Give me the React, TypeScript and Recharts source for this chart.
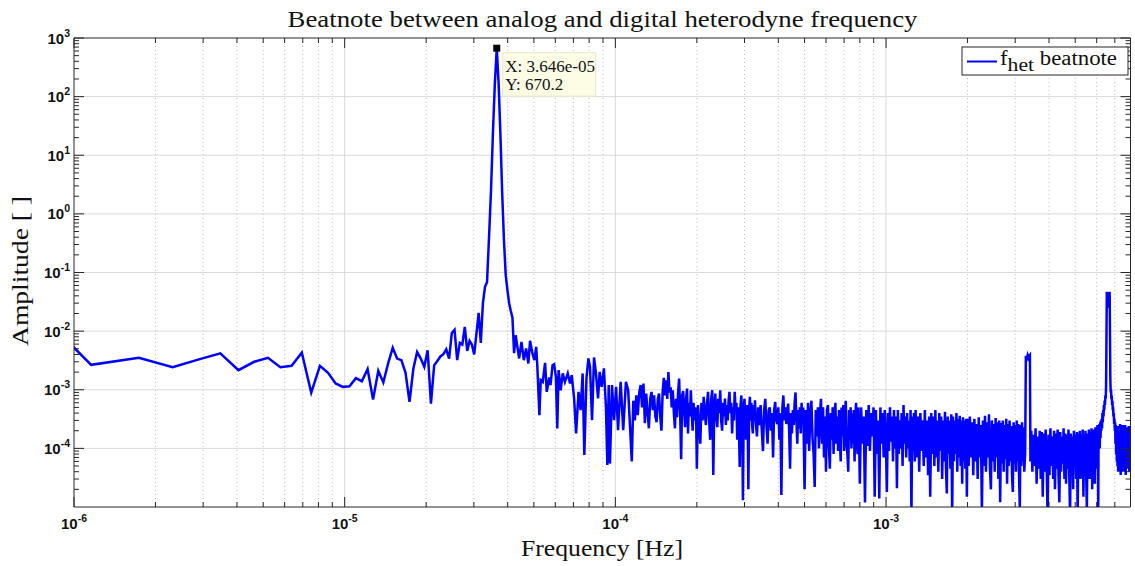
import React from 'react';
import { LineChart, Line, XAxis, YAxis, ReferenceLine, ReferenceDot } from 'recharts';

const chartTitle = 'Beatnote between analog and digital heterodyne frequency';
const xAxisLabel = 'Frequency [Hz]';
const yAxisLabel = 'Amplitude [ ]';
const legendMain = 'f';
const legendSub = 'het';
const legendRest = ' beatnote';
const dataTipLines = ['X: 3.646e-05', 'Y: 670.2'];
const peakFrequency = 3.646e-5;
const peakAmplitude = 670.2;

const xDomain = [1e-6, 8e-3];
const yDomain = [1e-5, 1e3];
const xMajorTicks = [1e-6, 1e-5, 1e-4, 1e-3];
const yMajorTicks = [1e-4, 1e-3, 1e-2, 1e-1, 1, 10, 100, 1000];
const yGridValues = [1e-4, 1e-3, 1e-2, 1e-1, 1, 10, 100];
const xGridValues = [1e-5, 1e-4, 1e-3];
const minorMultipliers = [2, 3, 4, 5, 6, 7, 8, 9];
const xDecades = [-6, -5, -4, -3];
const yDecades = [-5, -4, -3, -2, -1, 0, 1, 2];

// [frequency in µHz, amplitude]
const lowBins: [number, number][] = [
  [0.579, 0.066], [1.157, 2.66e-3], [1.736, 3.5e-3], [2.315, 2.43e-3], [2.894, 3.3e-3], [3.472, 4.17e-3],
  [4.051, 2.16e-3], [4.63, 3.0e-3], [5.208, 3.5e-3], [5.787, 2.43e-3], [6.366, 2.56e-3], [6.944, 4.3e-3],
  [7.523, 8.9e-4], [8.102, 2.56e-3], [8.681, 1.95e-3], [9.259, 1.28e-3], [9.838, 1.12e-3], [10.42, 1.15e-3],
  [11.0, 1.58e-3], [11.57, 1.4e-3], [12.15, 2.25e-3], [12.73, 6.8e-4], [13.31, 2.1e-3], [13.89, 1.33e-3],
  [14.47, 2.82e-3], [15.05, 5.2e-3], [15.62, 3.4e-3], [16.2, 3.2e-3], [16.78, 1.95e-3], [17.36, 6.2e-4],
  [17.94, 2.3e-3], [18.52, 4.4e-3], [19.1, 3.4e-3], [19.68, 2.46e-3], [20.25, 4.7e-3], [20.83, 5.8e-4],
  [21.41, 2.63e-3], [21.99, 3.1e-3], [22.57, 3.7e-3], [23.15, 4.05e-3], [23.73, 4.9e-3], [24.31, 3.4e-3],
  [24.88, 9.3e-3], [25.46, 1.05e-2], [26.04, 3.2e-3], [26.62, 6.3e-3], [27.2, 5.9e-3], [27.78, 1.18e-2],
  [28.36, 4.6e-3], [28.94, 6.8e-3], [29.51, 5.9e-3], [30.09, 4.0e-3],
];

const peakBins: [number, number][] = [
  [30.67, 9e-3], [31.25, 2.05e-2], [31.83, 6.3e-3], [32.41, 3.0e-2], [32.99, 5.7e-2], [33.56, 6.8e-2],
  [34.14, 0.4], [34.72, 2.5], [35.3, 25], [35.88, 170], [36.46, 670.2], [37.04, 170], [37.62, 22],
  [38.19, 2.2], [38.77, 0.35], [39.35, 0.09], [39.93, 0.05], [40.51, 0.03], [41.09, 0.022], [41.67, 0.017],
  [42.25, 4.2e-3], [42.82, 8.5e-3],
];

const riseNoise: [number, number][] = [
  [44.1, 3.42e-3], [45.0, 6.56e-3], [45.9, 3.2e-3], [46.8, 5.07e-3], [47.7, 2.81e-3], [48.4, 6.83e-3],
  [49.4, 4.16e-3], [50.2, 3.2e-3], [51.0, 5.4e-3], [51.5, 2.46e-3], [52.4, 3.69e-4], [53.0, 1.46e-3],
  [53.9, 1.36e-3], [55.0, 2.88e-3], [55.8, 9.2e-4], [57.0, 1.62e-3], [57.6, 1.2e-3], [58.6, 2.63e-3],
  [59.4, 2.73e-3], [60.3, 1.66e-3], [61.0, 2.19e-4], [61.7, 2.16e-3], [62.8, 9.8e-4], [63.9, 1.9e-3],
  [65.1, 1.36e-3], [66.7, 1.9e-3], [68.0, 1.28e-3], [69.0, 1.77e-3], [70.4, 7.1e-4], [71.6, 1.8e-4],
  [73.1, 9.2e-4], [74.4, 4.5e-4], [75.7, 1.9e-3], [76.8, 7.7e-5], [78.2, 1.56e-3], [79.5, 3.42e-3],
  [80.6, 2.46e-3], [82.0, 3.03e-4], [83.4, 3.56e-3], [84.8, 1.9e-3], [86.3, 7.1e-4], [87.5, 2.02e-3],
  [89.0, 1.12e-3], [90.7, 2.31e-3], [92.3, 5.1e-4], [93.4, 5.2e-5], [94.5, 1.2e-3], [95.5, 5.5e-5],
  [97.2, 1.2e-3], [98.9, 3.03e-4], [100.6, 1.12e-3], [102.3, 2.05e-4], [104.6, 1.36e-3], [106.9, 2.05e-4],
  [109.4, 1.36e-3], [111.5, 9.8e-4],
];

// evenly spaced FFT-bin groups: amplitudes
const n1Amplitudes = [
  6e-5, 6.5e-4, 3e-4, 8e-4, 3.7e-4, 9e-4, 1.2e-3, 5e-4, 1.28e-3, 2.7e-4, 8.6e-4, 4e-4, 2.2e-4, 7e-4, 9.2e-4,
  4.5e-4, 8e-4, 3.5e-4, 2.8e-4, 7e-4, 8.6e-4, 3.5e-4, 2e-4, 9e-4, 1.6e-3, 8e-4, 1.45e-3, 7e-4, 2e-3, 9e-4,
  1.1e-3, 5e-4, 9.8e-4, 4e-4, 2.2e-4, 7e-4, 3.4e-4, 9e-4, 1.55e-3, 4e-4, 6.5e-5, 8e-4, 9.5e-4, 4.5e-4, 2.3e-4,
  7e-4, 1.05e-3, 1.8e-4, 6e-4, 3.5e-4, 9.8e-4, 4e-4, 2e-4, 6e-4, 3e-4, 5e-4, 2.5e-4,
];
const n2Amplitudes = [
  4.5e-5, 5.5e-4, 2.5e-4, 1.2e-4, 6e-4, 3e-4, 7.6e-4, 4e-4, 2.5e-4, 6e-4, 9.2e-4, 3e-4, 1.4e-4, 7e-4, 9.8e-4,
  3.5e-5, 5e-4, 8.6e-4, 3.5e-4, 2.3e-4, 7e-4, 4e-4, 9.8e-4, 3e-4, 2e-4, 6e-4, 3.5e-4, 7.1e-4, 2.5e-4, 5.5e-4,
  3e-4, 6.5e-4, 9.2e-4, 4e-4, 6e-4, 1.8e-4, 5e-4, 3e-4, 9.2e-4, 4.5e-4, 6e-4, 1.4e-4, 5e-4, 2.5e-4, 4.8e-5,
  5.5e-4, 8e-4, 3e-4, 1.3e-5, 5e-4, 7e-4, 3e-4, 1.4e-4, 5.5e-4, 3.5e-4, 2e-5, 4.5e-4, 7.6e-4, 3e-4, 6e-4,
  2.5e-4, 1.8e-4, 5.5e-4, 3e-4, 6.6e-4,
];
const n3Amplitudes = [
  3e-4, 1.6e-4, 5e-4, 2.5e-4, 5.5e-4, 2e-4, 9e-5, 4.5e-4, 7e-4, 2.5e-4, 1.2e-4, 4.5e-4, 5e-4, 2e-4, 4e-4,
  7e-5, 4.5e-4, 6.2e-4, 3e-4, 2.6e-4, 5e-4, 1.4e-4, 4e-4, 1.6e-5, 5e-4, 8e-4, 3e-4, 5e-4, 2.6e-4, 4e-4,
  5.8e-4, 2e-4, 4.5e-5, 4e-4, 1.8e-4, 4.5e-4, 2.5e-4, 6e-4, 9e-4, 3e-4, 1.2e-4, 4.5e-4, 2.2e-4, 5e-4, 1.8e-4,
  6e-4, 3e-4, 5e-4,
];
const n4Amplitudes = [
  2e-5, 4.5e-4, 1.2e-4, 6e-4, 9e-5, 4e-4, 6.5e-4, 1.5e-4, 8e-5, 2.2e-5, 4.5e-4, 1.6e-4, 5e-4, 1e-4, 4e-4,
  7e-4, 1.2e-4, 5e-4, 7e-5, 3.5e-4, 4e-5, 4.5e-4, 5.5e-4, 1.1e-4, 4.5e-5, 4e-4, 1.4e-4, 5e-4, 8e-5, 4e-4,
  6e-4, 1.2e-4, 3.5e-4, 9e-5, 4.5e-4, 1.5e-4, 6e-5, 5e-4, 1.6e-4, 5.5e-4, 9e-5, 4e-4, 6.5e-4, 1.2e-4, 8e-5,
  4e-5, 4.5e-4, 1.4e-4, 5e-4, 1e-4, 4e-4, 1.2e-4, 4.5e-4, 6e-5, 3.5e-4, 6e-4, 1.3e-4, 8e-5, 5e-4, 1.4e-4,
];
const n5Amplitudes = [
  2.5e-5, 5e-4, 1.2e-4, 3.5e-4, 1.2e-5, 4.5e-4, 1.1e-4, 5.5e-4, 9e-5, 4e-4, 1.6e-4, 5e-4, 1.5e-5, 4.5e-4, 8e-5,
  3e-4, 1.4e-5, 5e-4, 1.2e-4, 4e-4, 7e-5, 4.5e-4, 1.5e-4, 1.8e-5, 4e-4, 9e-5, 5e-4, 1.3e-4, 3.5e-4, 6e-5,
  4.5e-4, 1e-4, 3.5e-4, 2.1e-5, 4.5e-4, 8e-5, 3e-4, 1e-4, 4e-4, 5e-5, 5.5e-4, 1.2e-4, 3.5e-4, 7e-5, 4e-4,
  1e-4, 3e-4, 6e-5, 4.5e-4, 7e-6, 3.5e-4, 9e-5, 4e-4, 6e-5, 4.5e-4, 1.2e-4,
];
const n6Amplitudes = [
  7e-5, 3.5e-4, 4e-5, 4e-4, 9e-5, 3e-4, 5e-5, 4.5e-4, 7e-5, 3e-4, 3.5e-5, 3.5e-4, 1.5e-5, 4e-4, 8e-5,
  3.5e-4, 5e-5, 4.5e-4, 7e-5, 3e-4, 4e-5, 4e-4, 9e-5, 3.5e-4, 3e-5, 3e-4, 6e-5, 4.2e-4, 5e-5, 1.7e-5,
  3.5e-4, 8e-5, 3e-4, 4.5e-5, 3.8e-4, 7e-6, 3.5e-4, 6e-5, 3e-4, 8e-5, 4e-4, 4e-5, 3.2e-4, 7e-5, 3.6e-4,
  5e-5, 3e-4, 2.5e-5, 3.4e-4, 6e-5, 3e-4, 4.5e-5, 3.2e-4, 1.5e-5,
];
const n7Amplitudes = [
  3.2e-4, 5e-5, 3.5e-4, 7e-5, 2.8e-4, 3.5e-5, 3.2e-4, 6e-5, 2.6e-4, 3e-5, 3.4e-4, 7e-5, 2.5e-4, 8e-6, 3e-4,
  5e-5, 3.6e-4, 4e-5, 2.8e-4, 7e-5, 3.8e-4, 4.5e-5, 2e-5, 3e-4, 6e-5, 2.6e-4, 4e-5, 3.3e-4, 7e-5, 2.8e-4,
  3e-5, 3e-4, 1.2e-5, 2.7e-4, 5.5e-5, 3e-4, 4e-5, 2.5e-4, 6.5e-5, 3.2e-4, 2.5e-5, 2.6e-4, 5e-5, 3e-4, 6e-5,
  2.4e-4, 3.5e-5, 1.8e-5, 2.8e-4, 5.5e-5, 2.5e-4, 4e-5, 3e-4, 6e-5, 2.6e-4, 3.5e-5, 1e-5, 2.5e-4, 5e-5, 2.8e-4,
  6e-5, 2.3e-4, 4e-5,
];
const n8Amplitudes = [
  2e-4, 4e-5, 1.7e-4, 5e-5, 2.2e-4, 2.5e-5, 1.6e-4, 4.5e-5, 2e-4, 3e-5, 1.9e-4, 1.5e-5, 1.8e-4, 4e-5, 2.1e-4,
  5e-5, 7e-6, 1.7e-4, 3.5e-5, 2.2e-4, 5e-5, 1.6e-4, 3e-5, 2e-4, 2e-5, 1.8e-4, 4.5e-5, 2.1e-4, 3.5e-5, 1.2e-5,
  1.9e-4, 4e-5, 1.6e-4, 5.5e-5, 2.2e-4, 3e-5, 1.8e-4, 2.5e-5, 1.7e-4, 4.5e-5, 2.1e-4, 3.5e-5, 7e-6, 1.8e-4, 4e-5,
  1.6e-4, 2e-5, 2e-4, 5e-5, 1.7e-4, 3e-5, 1.9e-4, 7e-6, 1.8e-4, 4e-5, 2e-4, 3e-5, 1.7e-4, 5e-5, 2.1e-4,
  1.5e-5, 1.7e-4, 4e-5, 2e-4, 3.5e-5, 9e-6, 1.8e-4, 4.5e-5, 2.1e-4, 3e-5, 1.9e-4, 5e-5, 2.2e-4, 2e-5, 2e-4,
  4e-5, 2.1e-4, 2.5e-5, 2.3e-4, 4.5e-5,
];
const n9Amplitudes = [
  4e-5, 2.4e-4, 5e-5, 2.6e-4, 3.5e-5, 2e-4, 6e-5, 2.5e-4, 4e-5, 2.2e-4, 5.5e-5, 2.5e-4, 3.5e-5, 2.3e-4, 6e-5,
  2e-4, 4.5e-5, 2.4e-4, 4e-5, 2.2e-4, 6e-5, 2.3e-4,
];

const harmonicOne: [number, number][] = [
  [3265, 8e-5], [3285, 3.8e-3], [3310, 3.4e-3], [3335, 3.9e-3], [3360, 3.5e-3], [3385, 3.8e-3],
  [3400, 3.9e-3], [3415, 6e-5],
];

const harmonicTwo: [number, number][] = [
  [6000, 2.2e-4], [6020, 6e-5], [6040, 2.5e-4], [6060, 1e-4], [6080, 8e-6], [6100, 2.4e-4], [6120, 1.2e-4],
  [6140, 2.6e-4], [6160, 1e-4], [6180, 2.8e-4], [6200, 1.5e-4], [6220, 3e-4], [6240, 2e-4], [6260, 3.2e-4],
  [6280, 2.2e-4], [6300, 4e-4], [6320, 2.8e-4], [6340, 4.5e-4], [6360, 3.5e-4], [6380, 5.5e-4], [6400, 4.5e-4],
  [6420, 6.5e-4], [6440, 5.5e-4], [6460, 8e-4], [6480, 7e-4], [6500, 1.2e-3], [6540, 0.047], [6580, 0.025],
  [6620, 0.046], [6660, 0.03], [6700, 0.047], [6740, 1.5e-3], [6760, 9e-4], [6780, 1e-3], [6800, 7e-4],
  [6820, 8e-4], [6840, 5.5e-4], [6860, 6.5e-4], [6880, 4.5e-4], [6900, 5e-4], [6920, 3.5e-4], [6940, 4e-4],
  [6960, 2.6e-4], [6980, 3.2e-4], [7000, 2e-4], [7020, 2.8e-4], [7040, 1.2e-4], [7060, 2.5e-4], [7080, 8e-5],
  [7100, 2.3e-4], [7120, 6e-5], [7140, 2.4e-4], [7160, 5e-5], [7180, 2.2e-4],
];

const binGroup = (startMicroHz: number, stepMicroHz: number, amps: number[]): [number, number][] =>
  amps.map((a, i) => [startMicroHz + i * stepMicroHz, a]);

const spectrum = [
  ...lowBins, ...peakBins, ...riseNoise,
  ...binGroup(115, 1.5, n1Amplitudes),
  ...binGroup(200, 2, n2Amplitudes),
  ...binGroup(330, 3.5, n3Amplitudes),
  ...binGroup(500, 5, n4Amplitudes),
  ...binGroup(800, 9, n5Amplitudes),
  ...binGroup(1300, 13, n6Amplitudes),
  ...binGroup(2000, 20, n7Amplitudes),
  ...harmonicOne,
  ...binGroup(3440, 32, n8Amplitudes),
  ...harmonicTwo,
  ...binGroup(7200, 40, n9Amplitudes),
].map(([uhz, a]) => ({ f: uhz * 1e-6, a }));

const xMinorTicks = xDecades
  .flatMap((d) => minorMultipliers.map((m) => m * Math.pow(10, d)))
  .filter((v) => v < 7.9e-3);
const yMinorTicks = yDecades.flatMap((d) => minorMultipliers.map((m) => m * Math.pow(10, d)));
const xAllTicks = [...xMajorTicks, ...xMinorTicks].sort((a, b) => a - b);
const yAllTicks = [...yMajorTicks, ...yMinorTicks].sort((a, b) => a - b);

const AXIS_COLOR = '#262626';
const LINE_COLOR = '#0000ff';
const TICK_FONT = '"Liberation Sans", Arial, sans-serif';
const SERIF = '"Liberation Serif", "Times New Roman", serif';
const MAJOR_LEN = 10;
const MINOR_LEN = 5;

const expOf = (v: number) => Math.round(Math.log10(v));
const isMajor = (v: number) => Math.abs(Math.log10(v) - Math.round(Math.log10(v))) < 1e-6;

const Pow10 = ({ x, y, anchor, value }: any) => (
  <text x={x} y={y} textAnchor={anchor} fontFamily={TICK_FONT} fontWeight="bold" fontSize={15} fill="#111">
    10<tspan dy={-7} fontSize={10.5}>{expOf(value)}</tspan>
  </text>
);

const BottomTick = (props: any) => {
  const { x, y, payload } = props;
  const major = isMajor(payload.value);
  return (
    <g>
      <line x1={x} x2={x} y1={y} y2={y - (major ? MAJOR_LEN : MINOR_LEN)} stroke={AXIS_COLOR} strokeWidth={1} />
      {major && <Pow10 x={x} y={y + 22} anchor="middle" value={payload.value} />}
    </g>
  );
};

const TopTick = (props: any) => {
  const { x, y, payload } = props;
  const major = isMajor(payload.value);
  return <line x1={x} x2={x} y1={y} y2={y + (major ? MAJOR_LEN : MINOR_LEN)} stroke={AXIS_COLOR} strokeWidth={1} />;
};

const LeftTick = (props: any) => {
  const { x, y, payload } = props;
  const major = isMajor(payload.value);
  return (
    <g>
      <line x1={x} x2={x + (major ? MAJOR_LEN : MINOR_LEN)} y1={y} y2={y} stroke={AXIS_COLOR} strokeWidth={1} />
      {major && <Pow10 x={x - 4} y={y + 5.5} anchor="end" value={payload.value} />}
    </g>
  );
};

const RightTick = (props: any) => {
  const { x, y, payload } = props;
  const major = isMajor(payload.value);
  return <line x1={x} x2={x - (major ? MAJOR_LEN : MINOR_LEN)} y1={y} y2={y} stroke={AXIS_COLOR} strokeWidth={1} />;
};

const DataTip = (props: any) => {
  const { cx, cy } = props;
  return (
    <g>
      <rect x={cx - 3.5} y={cy - 3.5} width={7} height={7} fill="#000" />
      <rect x={cx + 6} y={cy + 4.5} width={93} height={43.5} fill="#fdfde6" stroke="#e6e6cc" strokeWidth={1} />
      <text x={cx + 8.5} y={cy + 23.5} fontFamily={SERIF} fontSize={17} fill="#111">{dataTipLines[0]}</text>
      <text x={cx + 8.5} y={cy + 42} fontFamily={SERIF} fontSize={17} fill="#111">{dataTipLines[1]}</text>
    </g>
  );
};

const logX = { type: 'number' as const, scale: 'log' as const, domain: xDomain, allowDataOverflow: true, dataKey: 'f' };
const logY = { type: 'number' as const, scale: 'log' as const, domain: yDomain, allowDataOverflow: true };

export default function App() {
  return (
    <div style={{ position: 'absolute', left: 0, top: 0, width: 1135, height: 566, background: '#fff' }}>
      <LineChart width={1135} height={566} data={spectrum} margin={{ top: 37, right: 3.5, bottom: 58, left: 73 }}>
        <XAxis xAxisId="x" {...logX} ticks={xAllTicks} interval={0} height={1} tickSize={0} tickMargin={0}
          tickLine={false} axisLine={{ stroke: AXIS_COLOR }} tick={<BottomTick />} />
        <XAxis xAxisId="xTop" orientation="top" {...logX} ticks={xAllTicks} interval={0} height={1} tickSize={0}
          tickMargin={0} tickLine={false} axisLine={{ stroke: AXIS_COLOR }} tick={<TopTick />} />
        <YAxis yAxisId="y" {...logY} ticks={yAllTicks} interval={0} width={1} tickSize={0} tickMargin={0}
          tickLine={false} axisLine={{ stroke: AXIS_COLOR }} tick={<LeftTick />} />
        <YAxis yAxisId="yRight" orientation="right" {...logY} ticks={yAllTicks} interval={0} width={1} tickSize={0}
          tickMargin={0} tickLine={false} axisLine={{ stroke: AXIS_COLOR }} tick={<RightTick />} />

        {xMinorTicks.map((v) => (
          <ReferenceLine key={'xm' + v} xAxisId="x" yAxisId="y" x={v} stroke="#bdbdbd" strokeDasharray="1 3" strokeWidth={1} />
        ))}
        {xGridValues.map((v) => (
          <ReferenceLine key={'xg' + v} xAxisId="x" yAxisId="y" x={v} stroke="#dadada" strokeWidth={1} />
        ))}
        {yGridValues.map((v) => (
          <ReferenceLine key={'yg' + v} xAxisId="x" yAxisId="y" y={v} stroke="#dadada" strokeWidth={1} />
        ))}

        <Line xAxisId="x" yAxisId="y" dataKey="a" stroke={LINE_COLOR} strokeWidth={2.5} dot={false}
          isAnimationActive={false} type="linear" />

        <ReferenceDot xAxisId="x" yAxisId="y" x={peakFrequency} y={peakAmplitude} shape={<DataTip />} />
      </LineChart>

      <svg width={1135} height={566} style={{ position: 'absolute', left: 0, top: 0, pointerEvents: 'none' }}>
        <text x={602.5} y={27} textAnchor="middle" fontFamily={SERIF} fontSize={23} textLength={630}
          lengthAdjust="spacingAndGlyphs" fill="#111">{chartTitle}</text>
        <text x={602} y={556} textAnchor="middle" fontFamily={SERIF} fontSize={23} textLength={162}
          lengthAdjust="spacingAndGlyphs" fill="#111">{xAxisLabel}</text>
        <text transform="translate(28 271) rotate(-90)" x={0} y={0} textAnchor="middle" fontFamily={SERIF} fontSize={23}
          textLength={150} lengthAdjust="spacingAndGlyphs" fill="#111">{yAxisLabel}</text>
        <g>
          <rect x={962} y={47} width={166} height={28} fill="#fff" stroke={AXIS_COLOR} strokeWidth={1} />
          <line x1={967} x2={997} y1={61.5} y2={61.5} stroke={LINE_COLOR} strokeWidth={2} />
          <text x={1000} y={65} fontFamily={SERIF} fontSize={20} fill="#111" textLength={117} lengthAdjust="spacingAndGlyphs">
            {legendMain}
            <tspan dy={6} fontSize={19}>{legendSub}</tspan>
            <tspan dy={-6}>{legendRest}</tspan>
          </text>
        </g>
      </svg>
    </div>
  );
}
